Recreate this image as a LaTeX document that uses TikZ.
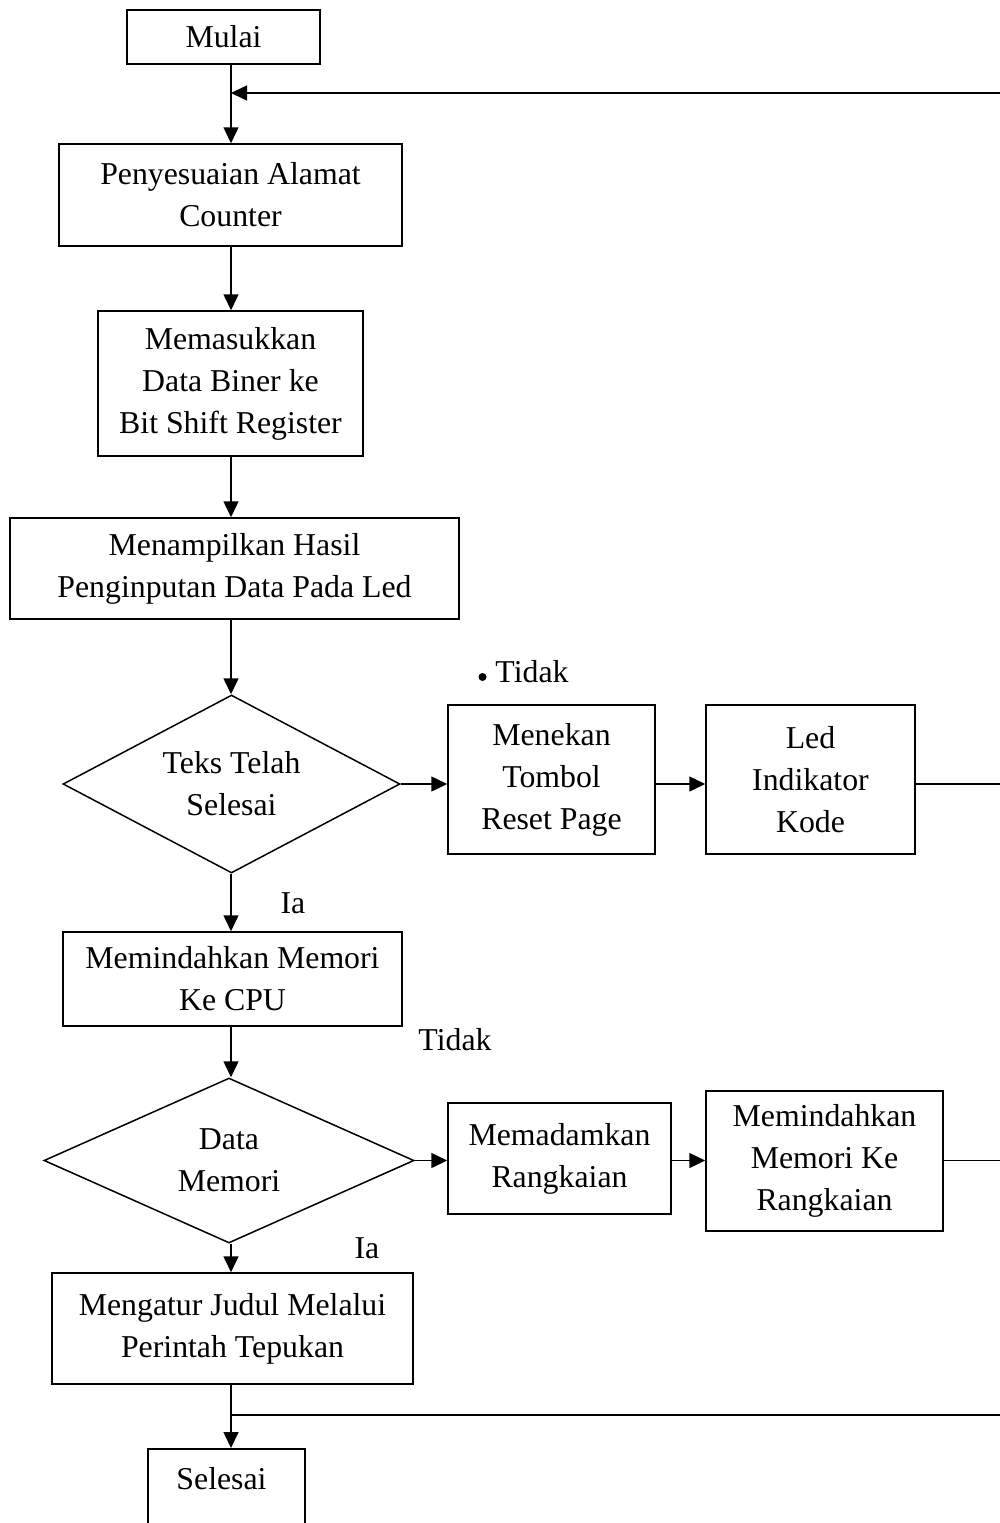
\documentclass[tikz,border=0pt]{standalone}
\usepackage{fontspec}
\setmainfont{Liberation Serif}
\usetikzlibrary{arrows.meta,shapes.geometric}
\begin{document}
\begin{tikzpicture}[x=1pt,y=-1pt,
  every node/.style={font=\fontsize{31.8}{42}\selectfont},
  box/.style={draw,line width=1.5pt,rectangle,align=center,inner sep=0pt},
  dia/.style={draw,line width=1.5pt,diamond,aspect=1.9,align=center,inner sep=0pt},
  arr/.style={line width=1.5pt,-{Triangle[length=16pt,width=15pt]}},
  ln/.style={line width=1.5pt}]
\useasboundingbox (0,0) rectangle (1000,1523);
\clip (0,0) rectangle (1000,1523);
\coordinate (spine) at (231,0);
\coordinate (tr) at (1000,93);
\coordinate (br) at (1000,1415);

\node[box,minimum width=193,minimum height=54] (mulai) at (223.5,37) {Mulai};
\node[box,minimum width=343,minimum height=102] (pen) at (230.5,195) {Penyesuaian Alamat\\Counter};
\node[box,minimum width=265,minimum height=145] (mem) at (230.5,383.5) {Memasukkan\\Data Biner ke\\Bit Shift Register};
\node[box,minimum width=449,minimum height=101] (tampil) at (234.5,568.5) {Menampilkan Hasil\\Penginputan Data Pada Led};
\node[dia,minimum width=337,minimum height=178] (d1) at (231.5,784) {Teks Telah\\Selesai};
\node[box,minimum width=207,minimum height=149] (tekan) at (551.5,779.5) {Menekan\\Tombol\\Reset Page};
\node[box,minimum width=209,minimum height=149] (led) at (810.5,779.5) {Led\\Indikator\\Kode};
\node[box,minimum width=339,minimum height=94] (pind) at (232.5,979) {Memindahkan Memori\\Ke CPU};
\node[dia,minimum width=370,minimum height=165] (d2) at (229,1160.5) {Data\\Memori};
\node[box,minimum width=223,minimum height=111] (padam) at (559.5,1158.5) {Memadamkan\\Rangkaian};
\node[box,minimum width=237,minimum height=140] (pkr) at (824.5,1161) {Memindahkan\\Memori Ke\\Rangkaian};
\node[box,minimum width=361,minimum height=111] (atur) at (232.5,1328.5) {Mengatur Judul Melalui\\Perintah Tepukan};
\node[box,anchor=north,minimum width=157,text height=41pt,text depth=90pt] (sel) at (226.5,1448) {\hspace*{-10pt}Selesai};

\node (t1) at (532,672) {Tidak};
\fill (482.5,677) circle (4pt);
\node (i1) at (293,903) {Ia};
\node (t2) at (455,1040) {Tidak};
\node (i2) at (367,1248) {Ia};

\draw[arr] (mulai.south -| spine) -- (pen.north -| spine);
\draw[arr] (tr) -- (tr -| spine);
\draw[arr] (pen.south -| spine) -- (mem.north -| spine);
\draw[arr] (mem.south -| spine) -- (tampil.north -| spine);
\draw[arr] (tampil.south -| spine) -- (d1.north -| spine);
\draw[arr] (d1.east) -- (d1.east -| tekan.west);
\draw[arr] (tekan.east |- d1.east) -- (led.west |- d1.east);
\draw[ln] (led.east |- d1.east) -- (d1.east -| tr);
\draw[arr] (d1.south -| spine) -- (pind.north -| spine);
\draw[arr] (pind.south -| spine) -- (d2.north -| spine);
\draw[arr] (d2.east) -- (d2.east -| padam.west);
\draw[arr] (padam.east |- d2.east) -- (pkr.west |- d2.east);
\draw[ln] (pkr.east |- d2.east) -- (d2.east -| tr);
\draw[arr] (d2.south -| spine) -- (atur.north -| spine);
\draw[arr] (atur.south -| spine) -- (sel.north -| spine);
\draw[ln] (br -| spine) -- (br);
\end{tikzpicture}
\end{document}
